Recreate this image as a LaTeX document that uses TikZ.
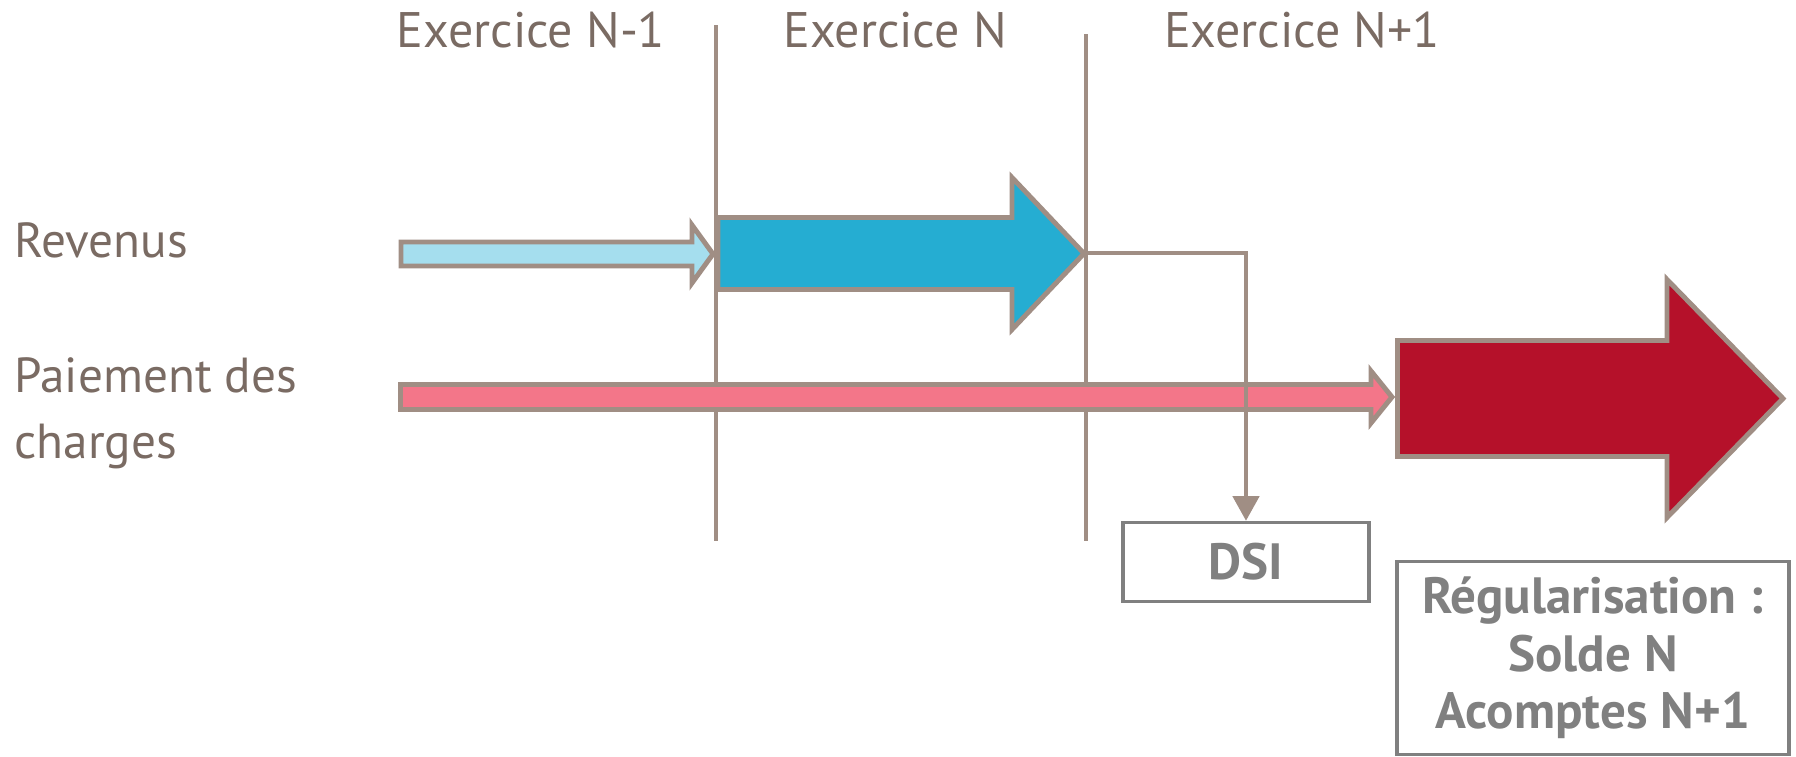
\documentclass[tikz,border=0pt]{standalone}
\usepackage{fontspec}
\setmainfont{PT Sans}
\usetikzlibrary{arrows.meta}

\definecolor{txtbrown}{RGB}{122,107,99}
\definecolor{linegray}{RGB}{160,142,132}
\definecolor{boxgray}{RGB}{128,128,128}
\definecolor{lightblue}{RGB}{165,222,238}
\definecolor{strongblue}{RGB}{37,173,210}
\definecolor{lightpink}{RGB}{243,118,137}
\definecolor{darkred}{RGB}{181,17,42}

% fill, left x, tip x, middle y, half shaft, head start x, half head
\newcommand{\blockarrow}[7]{%
  \draw[outline,fill=#1] (#2,#4-#5) -- (#6,#4-#5) -- (#6,#4-#7) -- (#3,#4)
    -- (#6,#4+#7) -- (#6,#4+#5) -- (#2,#4+#5) -- cycle;}

\begin{document}
\begin{tikzpicture}[x=0.01cm,y=-0.01cm,
    outline/.style={draw=linegray,line width=1.4pt,line join=miter},
    yearline/.style={draw=linegray,line width=1pt},
    year/.style={text=txtbrown,font=\fontsize{14.2}{17}\selectfont,anchor=base,inner sep=0pt},
    rowlabel/.style={text=txtbrown,font=\fontsize{14}{18.5}\selectfont,anchor=base west,align=left,inner sep=0pt},
    resultbox/.style={draw=boxgray,line width=1pt,text=boxgray,font=\bfseries\fontsize{14.5}{16.3}\selectfont,align=center},
    connector/.style={draw=linegray,line width=1pt,-{Triangle[length=7pt,width=7.5pt]}}]
  \useasboundingbox (0,0) rectangle (1796,756);

  % years
  \node[year] (yearA) at (531,47) {Exercice N-1};
  \node[year] (yearB) at (895,47) {Exercice N};
  \node[year] (yearC) at (1302,47) {Exercice N+1};
  \draw[yearline] (716,25) -- (716,541);
  \draw[yearline] (1086,34) -- (1086,541);

  % rows
  \node[rowlabel] (revenus) at (14,257) {Revenus};
  \node[rowlabel] (paiement) at (14,458) {Paiement des\\charges};

  \blockarrow{lightblue}{401}{713}{254}{12}{692}{29}
  \blockarrow{strongblue}{718}{1084}{253.5}{36}{1012}{76}
  \blockarrow{lightpink}{400.5}{1392}{397}{12.5}{1371}{26}
  \blockarrow{darkred}{1397.5}{1783}{398.5}{58}{1667}{119}
  \coordinate (bluetip) at (1086,253);

  % results
  \node[resultbox,minimum width=2.46cm,minimum height=0.79cm] (dsi) at (1246,562) {DSI};
  \node[resultbox,minimum width=3.92cm,minimum height=1.93cm] (regul) at (1593,658)
    {Régularisation :\\Solde N\\Acomptes N+1};

  \draw[connector] (bluetip) -| (dsi.north);
\end{tikzpicture}
\end{document}
